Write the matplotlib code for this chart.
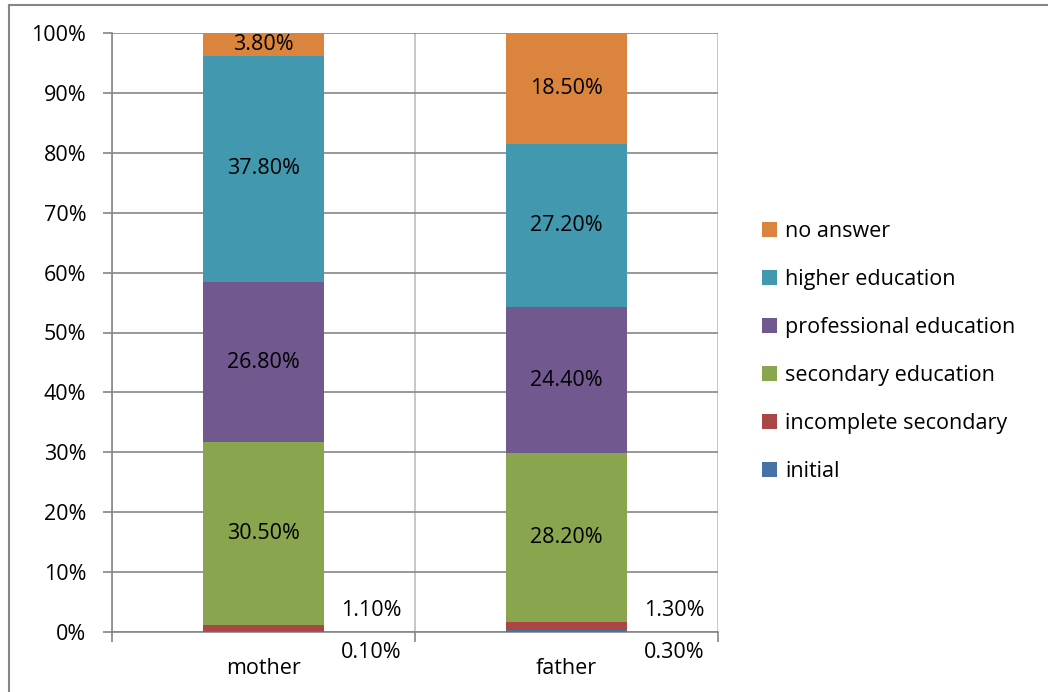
import matplotlib
matplotlib.use("Agg")
import matplotlib.pyplot as plt
from matplotlib.lines import Line2D
from matplotlib.patches import Patch
import numpy as np

plt.rcParams['font.family'] = ['Open Sans', 'DejaVu Sans']

categories = ["mother", "father"]
series_names = ["initial", "incomplete secondary", "secondary education",
                "professional education", "higher education", "no answer"]
values = {
    "initial": [0.1, 0.3],
    "incomplete secondary": [1.1, 1.3],
    "secondary education": [30.5, 28.2],
    "professional education": [26.8, 24.4],
    "higher education": [37.8, 27.2],
    "no answer": [3.8, 18.5],
}
colors = {
    "initial": "#4572A7",
    "incomplete secondary": "#AA4643",
    "secondary education": "#89A54E",
    "professional education": "#71588F",
    "higher education": "#4198AF",
    "no answer": "#DB843D",
}
yticks = [0, 10, 20, 30, 40, 50, 60, 70, 80, 90, 100]

W, H = 1048, 692
fig = plt.figure(figsize=(W / 100, H / 100), dpi=100)
ax = fig.add_axes([112 / W, (H - 632) / H, (718 - 112) / W, (632 - 33) / H])

x = np.arange(len(categories))
totals = np.sum([values[s] for s in series_names], axis=0)
bottom = np.zeros(len(categories))
bar_w = 0.4
fs = 15.5
for s in series_names:
    v = np.array(values[s])
    h = v / totals * 100
    ax.bar(x, h, bar_w, bottom=bottom, color=colors[s], edgecolor='none', zorder=3)
    for i in range(len(categories)):
        lbl = f"{v[i]:.2f}%"
        if v[i] >= 3:
            ax.text(x[i], bottom[i] + h[i] / 2, lbl, ha='center', va='center',
                    fontsize=fs, color='black', zorder=4)
    bottom += h

# small-value labels placed beside the bars
small_offsets = {"incomplete secondary": 3.6, "initial": -3.5}
for s, yy in small_offsets.items():
    for i in range(len(categories)):
        ax.text(x[i] + 0.355, yy, f"{values[s][i]:.2f}%", ha='center', va='center',
                fontsize=fs, color='black', clip_on=False)

ax.set_xlim(-0.5, len(categories) - 0.5)
ax.set_ylim(0, 100)
ax.set_yticks(yticks)
ax.set_yticklabels([f"{t}%" for t in yticks], fontsize=fs)
ax.set_xticks(x)
ax.set_xticklabels(categories, fontsize=fs)
ax.set_xticks(np.arange(len(categories) + 1) - 0.5, minor=True)
ax.tick_params(axis='x', which='major', length=0, pad=19)
ax.tick_params(axis='x', which='minor', length=7.5, color='#868686', width=1.2)
ax.tick_params(axis='y', length=6.5, color='#868686', width=1.2, pad=12)
ax.grid(axis='y', color='#868686', linewidth=1.2, zorder=0)
ax.grid(axis='x', which='minor', color='#BEBEBE', linewidth=1.2, zorder=0)
for sp in ['top', 'right']:
    ax.spines[sp].set_visible(False)
ax.spines['left'].set_color('#868686')
ax.spines['bottom'].set_color('#868686')
ax.spines['left'].set_linewidth(1.2)
ax.spines['bottom'].set_linewidth(1.2)

handles = [Patch(facecolor=colors[s], edgecolor='none') for s in reversed(series_names)]
leg = fig.legend(handles, list(reversed(series_names)), loc='upper left',
                 bbox_to_anchor=(743 / W, 1 - 202 / H), frameon=False,
                 fontsize=fs, handlelength=0.7, handleheight=0.7,
                 handletextpad=0.35, labelspacing=1.25)

# chart frame border
fig.add_artist(Line2D([9 / W, 1], [1 - 4.5 / H, 1 - 4.5 / H], color='#868686', lw=1.5))
fig.add_artist(Line2D([9 / W, 9 / W], [0, 1 - 4.5 / H], color='#868686', lw=1.5))

fig.savefig("out.png", dpi=100)
